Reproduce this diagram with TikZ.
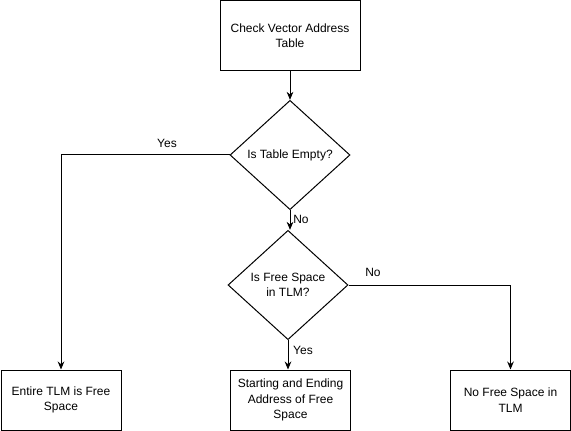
\documentclass[tikz,border=0pt]{standalone}
\usepackage{fontspec}
\setmainfont{Liberation Sans}
\usetikzlibrary{shapes.geometric,arrows.meta}
\begin{document}
\begin{tikzpicture}[x=0.75pt,y=-0.75pt,
  font=\fontsize{9}{11.5}\selectfont,
  box/.style={draw, line width=0.75pt, minimum width=90pt, minimum height=45pt, inner sep=0pt, align=center},
  dec/.style={draw, diamond, line width=0.75pt, minimum width=90pt, minimum height=82pt, inner sep=0pt, aspect=1.09, align=center},
  arr/.style={-{Stealth[length=6pt,width=5pt]}, line width=0.75pt},
  ln/.style={line width=0.75pt},
  lbl/.style={inner sep=0pt}]
\useasboundingbox (0,0) rectangle (571,431);
\node[box, minimum width=105pt, minimum height=52pt] (top) at (290,35.5) {Check Vector Address\\Table};
\node[dec] (d1) at (290,155) {Is Table Empty?};
\node[dec] (d2) at (288,285) {Is Free Space\\in TLM?};
\node[box] (b1) at (61,400) {Entire TLM is Free\\Space};
\node[box] (b2) at (290.5,400) {Starting and Ending\\Address of Free\\Space};
\node[box] (b3) at (510.5,400) {No Free Space in\\TLM};
\draw[arr] (top.south) -- (d1.north);
\draw[arr] (d1.south) -- (d2.north -| d1.south);
\draw[arr] (d1.west) -| (b1.north);
\draw[arr] (d2.south) -- (b2.north -| d2.south);
\draw[arr] (d2.east) -| (b3.north);
\node[lbl] (yes1) at (167,143) {Yes};
\node[lbl] (no1) at (301,219) {No};
\node[lbl] (no2) at (373,272) {No};
\node[lbl] (yes2) at (303,350) {Yes};
\end{tikzpicture}
\end{document}
